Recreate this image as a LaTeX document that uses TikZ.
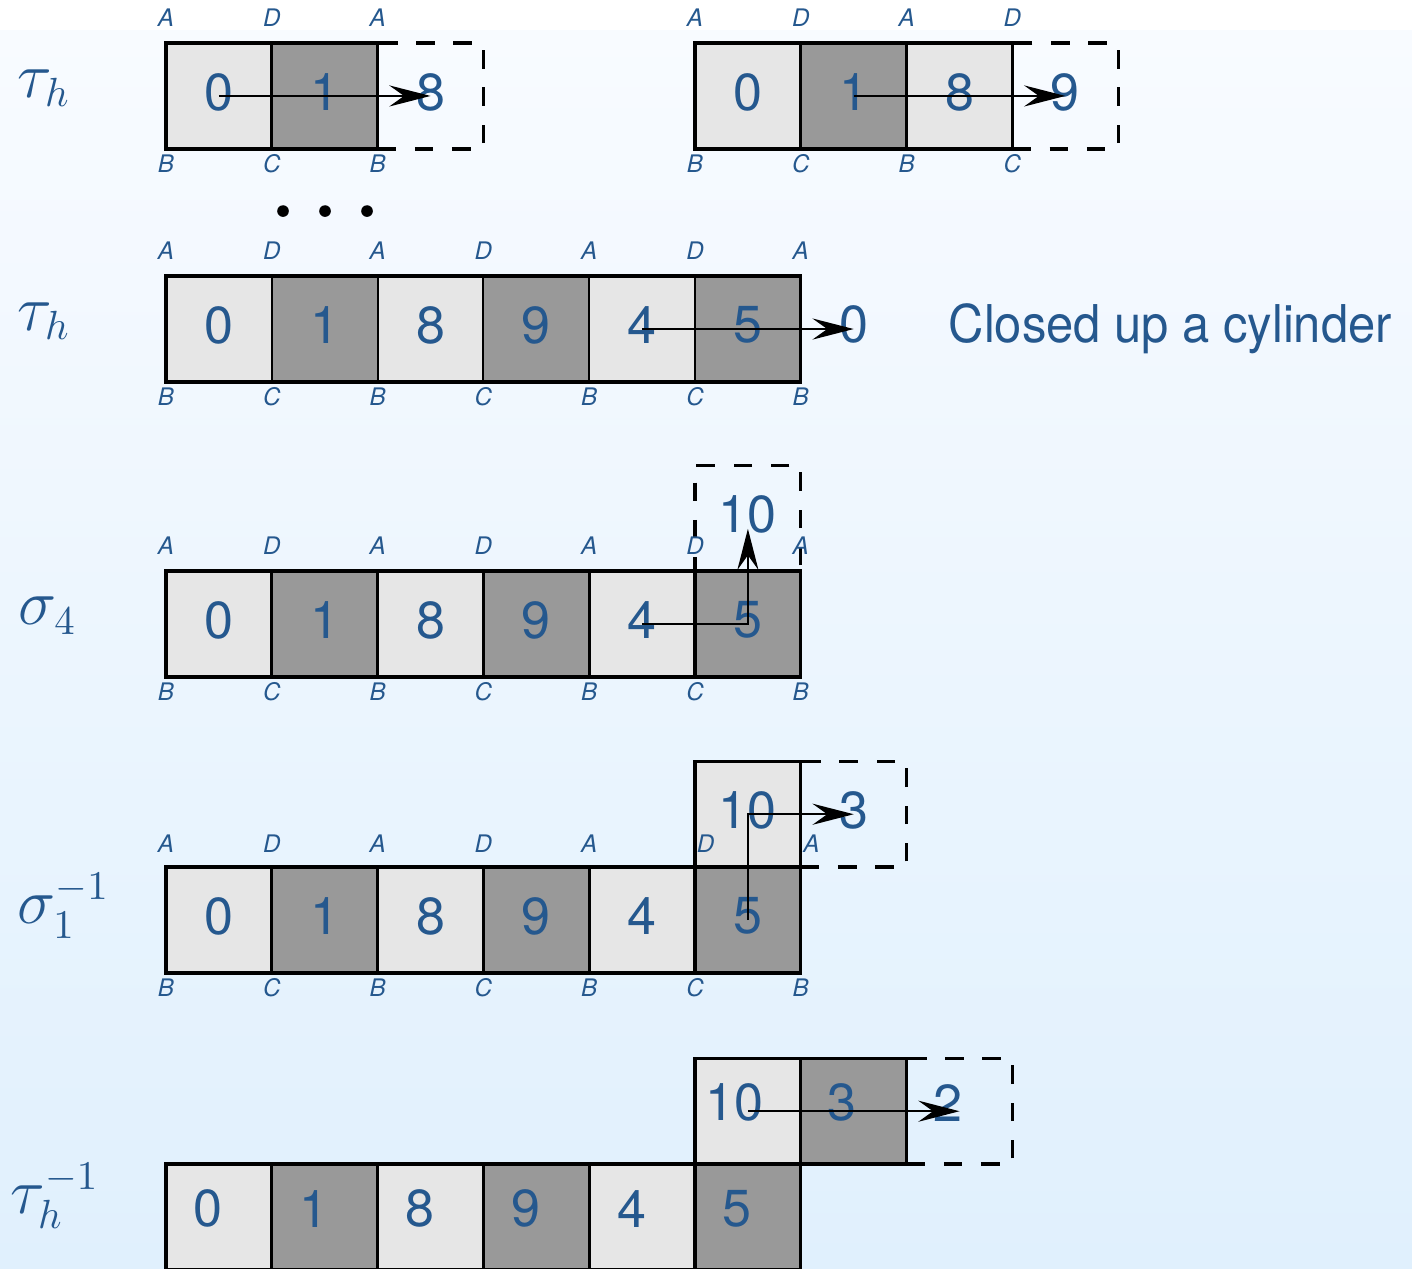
\documentclass[tikz,border=0pt]{standalone}
\usepackage{fontspec}
\setsansfont{TeX Gyre Heros}
\usetikzlibrary{arrows.meta,calc}
\definecolor{ink}{RGB}{37,88,142}
\definecolor{paleface}{RGB}{230,230,230}
\definecolor{darkface}{RGB}{153,153,153}
\definecolor{skytop}{RGB}{248,251,255}
\definecolor{skybot}{RGB}{224,240,253}

\begin{document}
\begin{tikzpicture}[
  numtext/.style={text=ink, inner sep=0pt, font=\sffamily\fontsize{14}{16}\selectfont},
  cell/.style={numtext, draw, line width=0.9pt, minimum size=1cm, outer sep=0pt, text depth=0.08cm},
  pale/.style={cell, fill=paleface},
  dark/.style={cell, fill=darkface},
  ghost/.style={cell, dash pattern=on 5pt off 5pt},
  corner/.style={text=ink, inner sep=0pt, font=\sffamily\itshape\fontsize{6.5}{7}\selectfont},
  move/.style={line width=0.4pt, -{Stealth[length=3.9mm,width=2mm,inset=1.4mm]}},
  opname/.style={text=ink, inner sep=0pt, anchor=base west, font=\fontsize{16}{19}\selectfont}]
  \useasboundingbox (0,0) rectangle (13.346,-11.985);
  \fill[white] (0,0) rectangle (13.346,-0.29);
  \shade[top color=skytop, bottom color=skybot] (0,-0.29) rectangle (13.346,-11.985);

  \node[opname] (opa) at (0.161,-0.917) {$\tau_h$};
  \node[opname] (opb) at (0.161,-3.12) {$\tau_h$};
  \node[opname] (opc) at (0.17,-5.907) {$\sigma_4$};
  \node[opname] (opd) at (0.16,-8.724) {$\sigma_1^{-1}$};
  \node[opname] (ope) at (0.095,-11.465) {$\tau_h^{-1}$};

  \foreach \n/\s [count=\i from 0] in {0/pale,1/dark,8/ghost}
    \node[\s] (ta\i) at (2.069+\i,-0.907) {\n};
  \foreach \n/\s [count=\i from 5] in {0/pale,1/dark,8/pale,9/ghost}
    \node[\s] (tb\i) at (2.069+\i,-0.907) {\n};
  \foreach \i/\t/\b in {0/A/B,1/D/C,2/A/B,5/A/B,6/D/C,7/A/B,8/D/C} {
    \node[corner] (ua\i) at (1.569+\i,-0.17) {\t};
    \node[corner] (la\i) at (1.569+\i,-1.546) {\b};
  }
  \foreach \x [count=\i] in {2.675,3.072,3.469}
    \fill (\x,-1.995) circle (0.055) coordinate (dot\i);

  \foreach \n/\s [count=\i from 0] in {0/pale,1/dark,8/pale,9/dark,4/pale,5/dark}
    \node[\s, line width=0.5pt] (cy\i) at (2.069+\i,-3.11) {\n};
  \draw[line width=0.9pt] (cy0.north west) rectangle (cy5.south east);
  \node[numtext] (cy6) at (8.069,-3.07) {0};
  \node[numtext, anchor=base west] (note) at (8.96,-3.233) {\scalebox{0.94}[1]{Closed up a cylinder}};

  \node[ghost] (sfx) at (7.069,-4.898) {10};
  \foreach \n/\s [count=\i from 0] in {0/pale,1/dark,8/pale,9/dark,4/pale,5/dark}
    \node[\s] (sf\i) at (2.069+\i,-5.898) {\n};

  \node[pale] (sox) at (7.069,-7.696) {10};
  \node[ghost] (soy) at (8.069,-7.696) {3};
  \foreach \n/\s [count=\i from 0] in {0/pale,1/dark,8/pale,9/dark,4/pale,5/dark}
    \node[\s] (so\i) at (2.069+\i,-8.696) {\n};

  \foreach \i/\t/\b in {0/A/B,1/D/C,2/A/B,3/D/C,4/A/B,5/D/C,6/A/B} {
    \node[corner] (ub\i) at (1.569+\i,-2.373) {\t};
    \node[corner] (lb\i) at (1.569+\i,-3.749) {\b};
    \node[corner] (uc\i) at (1.569+\i,-5.161) {\t};
    \node[corner] (lc\i) at (1.569+\i,-6.537) {\b};
    \node[corner] (ld\i) at (1.569+\i,-9.335) {\b};
  }
  \foreach \i/\t in {0/A,1/D,2/A,3/D,4/A}
    \node[corner] (ud\i) at (1.569+\i,-7.975) {\t};
  \node[corner] (ud5) at (6.669,-7.975) {D};
  \node[corner] (ud6) at (7.669,-7.975) {A};

  \node[pale] (tix) at (7.069,-10.503) {};
  \node[dark] (tiy) at (8.069,-10.503) {};
  \node[ghost] (tiz) at (9.069,-10.503) {};
  \foreach \n/\s [count=\i from 0] in {0/pale,1/dark,8/pale,9/dark,4/pale,5/dark}
    \node[\s] (ti\i) at (2.069+\i,-11.503) {};
  \foreach \n [count=\i from 0] in {0,1,8,9,4,5}
    \node[numtext] (tn\i) at ($(ti\i)+(-0.1,0.08)$) {\n};
  \node[numtext] (tnx) at ($(tix)+(-0.13,0.08)$) {10};
  \node[numtext] (tny) at ($(tiy)+(-0.11,0.08)$) {3};
  \node[numtext] (tnz) at ($(tiz)+(-0.11,0.08)$) {2};

  \draw[move] (ta0.center) -- (ta2.center);
  \draw[move] (tb6.center) -- (tb8.center);
  \draw[move] (cy4.center) -- (cy6.center |- cy5.center);
  \draw[move, shorten >=0.1cm] (sf4.center) -- (sf5.center) -- (sfx.center);
  \draw[move] (so5.center) -- (sox.center) -- (soy.center);
  \draw[move] (tix.center) -- (tiz.center);
\end{tikzpicture}
\end{document}
